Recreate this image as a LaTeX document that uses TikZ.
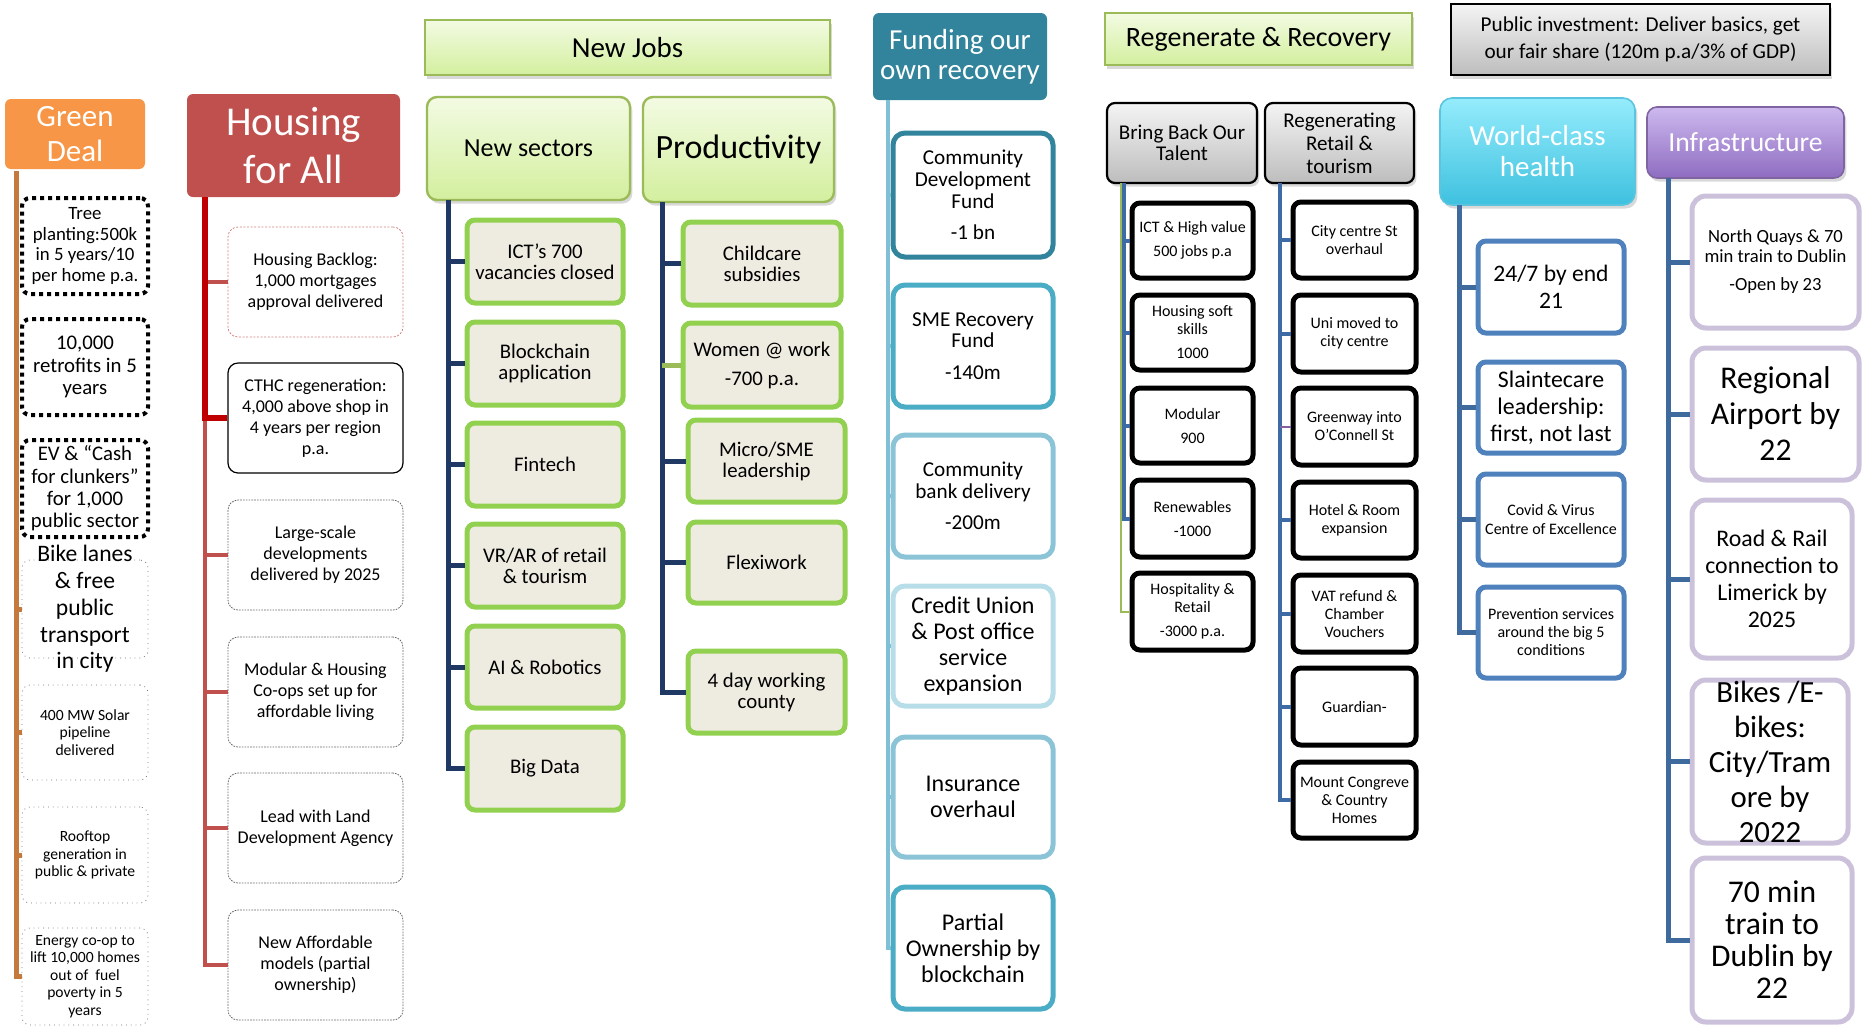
\documentclass[tikz,border=0pt]{standalone}
\usepackage{fontspec}
\setmainfont{Carlito}
\usepackage{xcolor}
\usetikzlibrary{positioning,shadows}
\newcommand{\fsz}[2]{\fontsize{#1pt}{#2pt}\selectfont}
\tikzset{wh/.style 2 args={minimum width=#1*0.5pt,minimum height=#2*0.5pt}}
\definecolor{gdorange}{HTML}{F79646}
\definecolor{gdbrown}{HTML}{C47A3C}
\definecolor{hred}{HTML}{C0504D}
\definecolor{hdark}{HTML}{C00000}
\definecolor{lgtop}{HTML}{F3FBE3}
\definecolor{lgbot}{HTML}{D3EF9E}
\definecolor{olivegr}{HTML}{9BBB59}
\definecolor{njfill}{HTML}{EEECE1}
\definecolor{njgreen}{HTML}{92D050}
\definecolor{navy}{HTML}{1F3864}
\definecolor{fteal}{HTML}{31849B}
\definecolor{fline}{HTML}{7FC0D6}
\definecolor{fmid}{HTML}{4BACC6}
\definecolor{flight}{HTML}{8CC4D7}
\definecolor{fpale}{HTML}{B7DDE8}
\definecolor{rblue}{HTML}{3C6BA5}
\definecolor{gtop}{HTML}{F4F4F4}
\definecolor{gbot}{HTML}{BDBDBD}
\definecolor{whtop}{HTML}{95ECFC}
\definecolor{whbot}{HTML}{3EC1DF}
\definecolor{whdraw}{HTML}{5BC5E0}
\definecolor{inftop}{HTML}{CDB9EF}
\definecolor{infbot}{HTML}{8E6CC0}
\definecolor{infdraw}{HTML}{8064A2}
\definecolor{hblue}{HTML}{4F81BD}
\definecolor{hline}{HTML}{3F6A9E}
\definecolor{ipurple}{HTML}{CCC1DA}
\definecolor{gvpurple}{HTML}{8064A2}

\begin{document}
\begin{tikzpicture}[x=0.5pt,y=-0.5pt]
\tikzstyle{every node}=[inner sep=0pt,align=center,rectangle]
\tikzstyle{hdr}=[rounded corners=3pt,text=white]
\tikzstyle{shad}=[drop shadow={opacity=.3,shadow xshift=1.2pt,shadow yshift=-1.8pt}]
\tikzstyle{lgreen}=[draw=olivegr,line width=1.2pt,top color=lgtop,bottom color=lgbot,shad]
\tikzstyle{greybar}=[draw=black,line width=1.1pt,top color=gtop,bottom color=gbot,shad]
\tikzstyle{gdbig}=[fill=white,draw=black,line width=2pt,dash pattern=on 2pt off 2pt,rounded corners=4pt,font=\fsz{10.4}{11.2}]
\tikzstyle{gdsmall}=[fill=white,draw=black!55,line width=0.4pt,dotted,rounded corners=4pt,font=\fsz{7.8}{8.8}]
\tikzstyle{hbox}=[fill=white,draw=black!60,line width=0.4pt,dash pattern=on 0.8pt off 0.6pt,rounded corners=5pt,font=\fsz{9}{10.5}]
\tikzstyle{njbox}=[fill=njfill,draw=njgreen,line width=2.5pt,rounded corners=4pt,font=\fsz{10.4}{10.5}]
\tikzstyle{fbox}=[fill=white,line width=2.5pt,rounded corners=6pt,font=\fsz{10.6}{10.8}]
\tikzstyle{fboxl}=[fbox,font=\fsz{12}{13}]
\tikzstyle{bbbox}=[fill=white,draw=black,line width=2.5pt,rounded corners=4pt,font=\fsz{8}{9}]
\tikzstyle{whbox}=[fill=white,draw=hblue,line width=2.5pt,rounded corners=4pt]
\tikzstyle{infbox}=[fill=white,draw=ipurple,line width=2.5pt,rounded corners=7pt]
\tikzstyle{gdl}=[draw=gdbrown,line width=2.5pt]
\tikzstyle{hl}=[draw=hred,line width=2pt]
\tikzstyle{njl}=[draw=navy,line width=2.5pt]
\tikzstyle{fl}=[draw=fline,line width=2pt]
\tikzstyle{rl}=[draw=rblue,line width=2pt]
\tikzstyle{whl}=[draw=hline,line width=2.5pt]

\useasboundingbox (0,0) rectangle (1865,1030);

\node[hdr,fill=gdorange,wh={140}{70},font=\fsz{15.5}{17.5}] (gd) at (75,134) {Green\\Deal};
\node[gdbig,wh={126}{96},font=\fsz{9.4}{10.3}] (gd1) at (85,246) {Tree\\planting:500k\\in 5 years/10\\per home p.a.};
\node[gdbig,wh={126}{96}] (gd2) at (85,367) {10,000\\retrofits in 5\\years};
\node[gdbig,wh={126}{97}] (gd3) at (85,488.5) {EV \& “Cash\\for clunkers”\\for 1,000\\public sector};
\node[gdsmall,wh={126}{98},label={[align=center,font=\fsz{11.8}{13.4}]center:Bike lanes\\\& free\\public\\transport\\in city}] (gd4) at (85,609) {};
\node[gdsmall,wh={126}{95}] (gd5) at (85,732.5) {400 MW Solar\\pipeline\\delivered};
\node[gdsmall,wh={126}{96}] (gd6) at (85,855) {Rooftop\\generation in\\public \& private};
\node[gdsmall,wh={126}{97}] (gd7) at (85,976.5) {Energy co-op to\\lift 10,000 homes\\out of~ fuel\\poverty in 5\\years};
\coordinate (gdt) at (16,171);
\foreach \n in {4,...,7} \draw[gdl] (gdt) |- (gd\n.west);

\node[hdr,fill=hred,wh={213}{103},font=\fsz{20.5}{24}] (hfa) at (293.5,145.5) {Housing\\for All};
\node[hbox,wh={175}{110},draw=hred!70,dash pattern=on 1pt off 0.8pt] (h1) at (315.5,282) {Housing Backlog:\\1,000 mortgages\\approval delivered};
\node[hbox,wh={175}{110},draw=black,solid,line width=0.6pt] (h2) at (315.5,418) {CTHC regeneration:\\4,000 above shop in\\4 years per region\\p.a.};
\node[hbox,wh={175}{110}] (h3) at (315.5,555) {Large-scale\\developments\\delivered by 2025};
\node[hbox,wh={175}{110}] (h4) at (315.5,692) {Modular \& Housing\\Co-ops set up for\\affordable living};
\node[hbox,wh={175}{110}] (h5) at (315.5,828) {Lead with Land\\Development Agency};
\node[hbox,wh={175}{110}] (h6) at (315.5,965) {New Affordable\\models (partial\\ownership)};
\coordinate (hfat) at (205,197);
\foreach \n in {1,3,4,5,6} \draw[hl] (hfat) |- (h\n.west);
\draw[draw=hdark,line width=2.8pt] (hfat) |- (h2.west);

\node[lgreen,wh={405}{55},font=\fsz{14.5}{16}] (nj) at (627.5,47.5) {New Jobs};
\node[lgreen,rounded corners=5pt,wh={203}{103},font=\fsz{13}{15}] (ns) at (528.5,148.5) {New sectors};
\node[lgreen,rounded corners=5pt,wh={191}{105},font=\fsz{17}{19}] (pr) at (738.5,149.5) {Productivity};
\node[njbox,wh={156}{83}] (ns1) at (545,261.5) {ICT’s 700\\vacancies closed};
\node[njbox,wh={156}{83}] (ns2) at (545,363.5) {Blockchain\\application};
\node[njbox,wh={156}{83}] (ns3) at (545,464.5) {Fintech};
\node[njbox,wh={156}{83}] (ns4) at (545,565.5) {VR/AR of retail\\\& tourism};
\node[njbox,wh={156}{82}] (ns5) at (545,667) {AI \& Robotics};
\node[njbox,wh={156}{83}] (ns6) at (545,768.5) {Big Data};
\node[njbox,wh={158}{83}] (pr1) at (762,263.5) {Childcare\\subsidies};
\node[njbox,wh={158}{84}] (pr2) at (762,365) {Women @ work\\[4pt]-700 p.a.};
\node[njbox,wh={157}{82}] (pr3) at (766.5,461) {Micro/SME\\leadership};
\node[njbox,wh={157}{81}] (pr4) at (766.5,562.5) {Flexiwork};
\node[njbox,wh={157}{82}] (pr5) at (766.5,692) {4 day working\\county};
\coordinate (nst) at (448,200);
\coordinate (prt) at (662,202);
\foreach \n in {1,...,6} \draw[njl] (nst) |- (ns\n.west);
\foreach \n in {1,3,4,5} \draw[njl] (prt) |- (pr\n.west);
\draw[draw=olivegr,line width=2.5pt] (prt |- pr2.west) -- (pr2.west);

\node[hdr,fill=fteal,wh={174}{87},font=\fsz{14.5}{15}] (fund) at (960,56.5) {Funding our\\own recovery};
\node[fbox,draw=fteal,wh={160}{124}] (f1) at (973,195) {Community\\Development\\Fund\\[5pt]-1 bn};
\node[fbox,draw=fmid,wh={160}{122}] (f2) at (973,346) {SME Recovery\\Fund\\[5pt]-140m};
\node[fbox,draw=flight,wh={160}{122}] (f3) at (973,496) {Community\\bank delivery\\[5pt]-200m};
\node[fboxl,draw=fpale,wh={160}{120}] (f4) at (973,646) {Credit Union\\\& Post office\\service\\expansion};
\node[fboxl,draw=flight,wh={160}{120}] (f5) at (973,797) {Insurance\\overhaul};
\node[fboxl,draw=fmid,wh={160}{122}] (f6) at (973,948) {Partial\\Ownership by\\blockchain};
\coordinate (fundt) at (888,100);
\foreach \n in {1,...,6} \draw[fl] (fundt) |- (f\n.west);

\node[lgreen,wh={307}{52},font=\fsz{14}{16}] (rr) at (1258.5,39) {Regenerate \& Recovery};
\node[greybar,rounded corners=4pt,wh={150}{80},font=\fsz{10.5}{10.5}] (bb) at (1182,143) {Bring Back Our\\Talent};
\node[greybar,rounded corners=4pt,wh={149}{80},font=\fsz{10.5}{11.5}] (rt) at (1339.5,143) {Regenerating\\Retail \&\\tourism};
\node[bbbox,wh={121}{75}] (bb1) at (1192.5,240.5) {ICT \& High value\\[3pt]500 jobs p.a};
\node[bbbox,wh={121}{75}] (bb2) at (1192.5,332.5) {Housing soft\\skills\\[3pt]1000};
\node[bbbox,wh={121}{75}] (bb3) at (1192.5,425.5) {Modular\\[3pt]900};
\node[bbbox,wh={121}{77}] (bb4) at (1192.5,518.5) {Renewables\\[3pt]-1000};
\node[bbbox,wh={121}{77}] (bb5) at (1192.5,611.5) {Hospitality \&\\Retail\\[3pt]-3000 p.a.};
\node[bbbox,wh={123}{76}] (rt1) at (1354.5,240) {City centre St\\overhaul};
\node[bbbox,wh={123}{77}] (rt2) at (1354.5,333.5) {Uni moved to\\city centre};
\node[bbbox,wh={123}{77}] (rt3) at (1354.5,426.5) {Greenway into\\O’Connell St};
\node[bbbox,wh={123}{76}] (rt4) at (1354.5,520) {Hotel \& Room\\expansion};
\node[bbbox,wh={123}{77}] (rt5) at (1354.5,613.5) {VAT refund \&\\Chamber\\Vouchers};
\node[bbbox,wh={123}{77}] (rt6) at (1354.5,706.5) {Guardian-};
\node[bbbox,wh={123}{76}] (rt7) at (1354.5,800) {Mount Congreve\\\& Country\\Homes};
\coordinate (bbt) at (1123.5,183);
\coordinate (bbg) at (1120.5,183);
\draw[draw=olivegr,line width=1pt] (bbg) |- (bb5.west);
\foreach \n in {1,...,4} \draw[rl] (bbt) |- (bb\n.west);
\coordinate (rtt) at (1280,183);
\foreach \n in {1,2,4,5,6,7} \draw[rl] (rtt) |- (rt\n.west);
\draw[draw=gvpurple,line width=1pt] (rtt |- rt3.west) -- (rt3.west);

\node[greybar,wh={379}{71},font=\fsz{10.6}{13.5}] (pi) at (1640.5,39.5) {Public investment: Deliver basics, get\\our fair share (120m p.a/3\% of GDP)};
\node[hdr,rounded corners=6pt,draw=whdraw,line width=0.8pt,top color=whtop,bottom color=whbot,shad,wh={195}{107},font=\fsz{14.5}{15.5}] (wh) at (1537.5,151.5) {World-class\\health};
\node[hdr,rounded corners=5pt,draw=infdraw,line width=0.8pt,top color=inftop,bottom color=infbot,shad,wh={197}{71},font=\fsz{13.8}{15}] (inf) at (1745.5,142.5) {Infrastructure};
\node[whbox,wh={146}{92},font=\fsz{11.8}{13.5}] (wh1) at (1551,287) {24/7 by end\\21};
\node[whbox,wh={146}{91},font=\fsz{11.9}{13.5}] (wh2) at (1551,407.5) {Slaintecare\\leadership:\\first, not last};
\node[whbox,wh={146}{91},font=\fsz{8}{9.5}] (wh3) at (1551,519.5) {Covid \& Virus\\Centre of Excellence};
\node[whbox,wh={146}{91},font=\fsz{8}{9}] (wh4) at (1551,632.5) {Prevention services\\around the big 5\\conditions};
\coordinate (wht) at (1459,205);
\foreach \n in {1,...,4} \draw[whl] (wht) |- (wh\n.west);
\node[infbox,wh={167}{132},font=\fsz{9.3}{10}] (in1) at (1775.5,262) {North Quays \& 70\\min train to Dublin\\[4pt]-Open by 23};
\node[infbox,wh={167}{132},font=\fsz{15.8}{18}] (in2) at (1775.5,414) {Regional\\Airport by\\22};
\node[infbox,wh={160}{158},font=\fsz{11.9}{13.5}] (in3) at (1772,579) {Road \& Rail\\connection to\\Limerick by\\2025};
\node[infbox,wh={156}{163},label={[align=center,font=\fsz{15.4}{17.5}]center:Bikes /E-\\bikes:\\City/Tram\\ore by\\2022}] (in4) at (1770,761.5) {};
\node[infbox,wh={160}{164},font=\fsz{15.8}{16}] (in5) at (1772,940) {70 min\\train to\\Dublin by\\22};
\coordinate (inft) at (1668,178);
\foreach \n in {1,...,5} \draw[whl] (inft) |- (in\n.west);
\end{tikzpicture}
\end{document}
